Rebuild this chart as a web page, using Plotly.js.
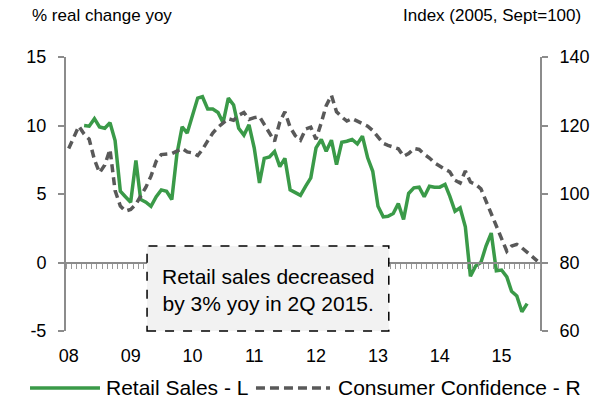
<!DOCTYPE html>
<html>
<head>
<meta charset="utf-8">
<script src="https://cdn.plot.ly/plotly-3.0.1.min.js"></script>
<style>
html,body{margin:0;padding:0;background:#fff;}
#chart{width:595px;height:406px;}
</style>
</head>
<body>
<div id="chart"></div>
<script>
// ---- Data (monthly, Jan 2008 onwards) ----
const startYear = 2008;
const yearLabels = ['08','09','10','11','12','13','14','15'];
const seriesNames = ['Retail Sales - L', 'Consumer Confidence - R'];
const leftTicks = [-5, 0, 5, 10, 15];
const leftTickText = ['-5', '0', '5', '10', '15'];
const rightTicks = [60, 80, 100, 120, 140];

// Retail sales, % real change yoy (left axis)
const retail2008 = [null, null, null, 10.0, 9.95, 10.5, 9.9, 9.8, 10.2, 8.9, 5.2, 4.8];
const retail2009 = [4.4, 7.45, 4.6, 4.4, 4.1, 4.8, 5.3, 5.2, 4.6, 7.9, 9.9, 9.45];
const retail2010 = [10.8, 12.0, 12.1, 11.2, 11.2, 10.95, 10.2, 12.0, 11.5, 9.8, 9.3, 10.05];
const retail2011 = [8.35, 5.8, 7.6, 7.7, 8.1, 7.0, 7.6, 5.3, 5.1, 4.9, 5.57, 6.18];
const retail2012 = [8.37, 8.98, 8.12, 8.93, 7.15, 8.78, 8.85, 8.98, 8.66, 9.22, 7.64, 6.66];
const retail2013 = [4.1, 3.33, 3.38, 3.58, 4.3, 3.14, 5.04, 5.45, 5.5, 4.8, 5.57, 5.5];
const retail2014 = [5.5, 5.7, 4.84, 3.74, 3.99, 2.6, -1.0, -0.25, 0.0, 1.2, 2.15, -0.6];
const retail2015 = [-0.55, -1.05, -2.1, -2.45, -3.6, -3.0];

// Consumer confidence, index 2005 Sept = 100 (right axis)
const conf2008 = [113.3, 116.5, 119.8, 117.5, 116.0, 110.0, 106.2, 108.5, 113.0, 101.0, 96.5, 95.0];
const conf2009 = [95.5, 97.0, 99.4, 102.0, 105.2, 109.6, 111.5, 111.7, 111.8, 112.5, 113.3, 112.3];
const conf2010 = [112.0, 111.2, 113.0, 115.5, 117.8, 119.5, 120.8, 122.0, 121.5, 123.0, 123.8, 121.8];
const conf2011 = [122.3, 122.6, 120.3, 117.9, 115.4, 121.0, 124.0, 119.5, 117.0, 115.7, 119.0, 119.5];
const conf2012 = [116.0, 120.8, 125.8, 128.8, 124.0, 122.5, 121.3, 122.0, 121.2, 120.6, 119.8, 118.5];
const conf2013 = [116.6, 114.8, 114.2, 113.8, 113.2, 111.0, 111.8, 113.3, 113.0, 111.6, 110.5, 109.1];
const conf2014 = [108.0, 107.2, 106.5, 104.0, 103.2, 106.7, 103.5, 102.8, 101.5, 98.0, 94.5, 91.0];
const conf2015 = [87.5, 83.3, 84.8, 85.3, 84.3, 83.0, 81.6, 80.4];

const retailByYear = [retail2008, retail2009, retail2010, retail2011, retail2012, retail2013, retail2014, retail2015];
const confByYear = [conf2008, conf2009, conf2010, conf2011, conf2012, conf2013, conf2014, conf2015];

function toSeries(byYear) {
  const x = [], y = [];
  byYear.forEach((arr, yi) => {
    arr.forEach((v, mi) => {
      x.push((startYear + yi) + '-' + String(mi + 1).padStart(2, '0') + '-01');
      y.push(v);
    });
  });
  return {x, y};
}
const rs = toSeries(retailByYear);
const cc = toSeries(confByYear);
const tickDates = yearLabels.map((l, i) => (startYear + i) + '-01-01');

const FONT = 'Liberation Sans, Arial, Helvetica, sans-serif';
const AX = '#8c8c8c';
const GREEN = '#3a9a48';
const GREY = '#595959';
const xRange = ['2007-12-16', '2015-08-16'];

const traces = [
  {x: rs.x, y: rs.y, type: 'scatter', mode: 'lines', name: seriesNames[0],
   line: {color: GREEN, width: 3.5}, connectgaps: false, xaxis: 'x', yaxis: 'y'},
  {x: cc.x, y: cc.y, type: 'scatter', mode: 'lines', name: seriesNames[1],
   line: {color: GREY, width: 3.5, dash: '8px,5px'}, xaxis: 'x', yaxis: 'y2'},
  {x: [], y: [], type: 'scatter', mode: 'lines', showlegend: false, hoverinfo: 'skip', xaxis: 'x2', yaxis: 'y'}
];

// legend drawn by hand (paper coordinates) so the sample lines are long like the original
const legY = -0.208;
const layout = {
  width: 595, height: 406,
  margin: {l: 66, r: 55, t: 57, b: 75},
  paper_bgcolor: '#fff', plot_bgcolor: '#fff',
  font: {family: FONT, size: 18, color: '#000'},
  showlegend: false,
  xaxis: {type: 'date', range: xRange, tickvals: tickDates, ticktext: yearLabels,
          ticks: '', showline: false, showgrid: false, zeroline: false,
          tickfont: {family: FONT, size: 18, color: '#000'}, ticklabelstandoff: 12},
  xaxis2: {type: 'date', range: xRange, overlaying: 'x', anchor: 'free', position: 0.25, side: 'bottom',
           tick0: '2007-12-16', dtick: 'M1', ticks: 'outside', ticklen: 5, tickwidth: 1, tickcolor: '#999',
           showticklabels: false, showline: true, linecolor: AX, linewidth: 2, showgrid: false, zeroline: false},
  yaxis: {range: [-5, 15], tickvals: leftTicks, ticktext: leftTickText, ticks: 'outside', ticklen: 6, tickwidth: 2,
          tickcolor: AX, showline: true, linecolor: AX, linewidth: 2, showgrid: false, zeroline: false,
          tickfont: {family: FONT, size: 18, color: '#000'}, ticklabelstandoff: 8},
  yaxis2: {range: [60, 140], tickvals: rightTicks, overlaying: 'y', side: 'right',
           ticks: 'outside', ticklen: 6, tickwidth: 2, tickcolor: AX, showline: true, linecolor: AX,
           linewidth: 2, showgrid: false, zeroline: false,
           tickfont: {family: FONT, size: 18, color: '#000'}, ticklabelstandoff: 8},
  shapes: [
    {type: 'rect', xref: 'paper', yref: 'paper', x0: 0.171, x1: 0.681, y0: 0.0, y1: 0.31,
     fillcolor: '#f2f2f2', line: {color: '#000', width: 1.5, dash: 'dash'}, layer: 'above'},
    {type: 'line', xref: 'paper', yref: 'paper', x0: -0.0759, x1: 0.0717, y0: legY, y1: legY,
     line: {color: GREEN, width: 3.5}},
    {type: 'line', xref: 'paper', yref: 'paper', x0: 0.4008, x1: 0.557, y0: legY, y1: legY,
     line: {color: GREY, width: 3.5, dash: '9px,5px'}}
  ],
  annotations: [
    {text: '% real change yoy', xref: 'paper', yref: 'paper', x: -0.076, y: 1.153,
     xanchor: 'left', yanchor: 'middle', showarrow: false, font: {family: FONT, size: 17, color: '#000'}},
    {text: 'Index (2005, Sept=100)', xref: 'paper', yref: 'paper', x: 1.0907, y: 1.153,
     xanchor: 'right', yanchor: 'middle', showarrow: false, font: {family: FONT, size: 17, color: '#000'}},
    {text: 'Retail sales decreased<br>by 3% yoy in 2Q 2015.', xref: 'paper', yref: 'paper',
     x: 0.426, y: 0.148, xanchor: 'center', yanchor: 'middle', showarrow: false, align: 'center',
     font: {family: FONT, size: 21, color: '#000'}},
    {text: seriesNames[0], xref: 'paper', yref: 'paper', x: 0.0802, y: legY,
     xanchor: 'left', yanchor: 'middle', showarrow: false, font: {family: FONT, size: 21, color: '#000'}},
    {text: seriesNames[1], xref: 'paper', yref: 'paper', x: 0.5696, y: legY,
     xanchor: 'left', yanchor: 'middle', showarrow: false, font: {family: FONT, size: 21, color: '#000'}}
  ]
};

Plotly.newPlot('chart', traces, layout, {displayModeBar: false, staticPlot: true});
</script>
</body>
</html>
